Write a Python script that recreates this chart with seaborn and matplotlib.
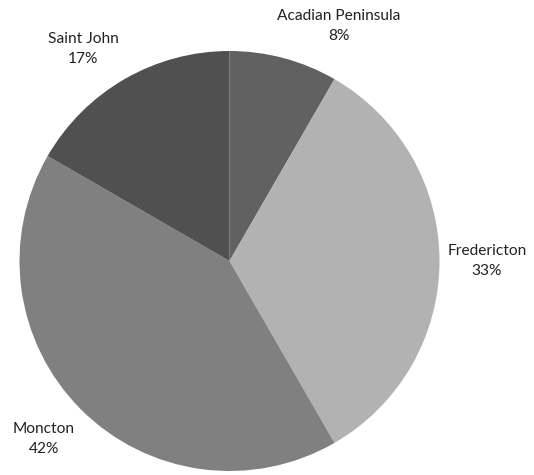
import matplotlib
matplotlib.use("Agg")
import matplotlib.pyplot as plt
import seaborn as sns

# Respondents by region
regions = ["Acadian Peninsula", "Fredericton", "Moncton", "Saint John"]
counts = [1, 4, 5, 2]
colors = ["#616161", "#b2b2b2", "#808080", "#505050"]

# Label anchors in units of the pie radius (pie centred at origin)
label_x = [0.521, 1.226, -0.883, -0.698]
label_y = [1.119, 0.0, -0.848, 1.010]

sns.set_theme(style="white")
plt.rcParams["font.family"] = ["Lato", "DejaVu Sans"]

fig = plt.figure(figsize=(5.34, 4.75), dpi=100)
ax = fig.add_axes([0, 0, 1, 1])

ax.pie(
    counts,
    colors=colors,
    startangle=90,
    counterclock=False,
    radius=1.0,
    wedgeprops=dict(linewidth=0),
)

total = sum(counts)
for name, c, x, y in zip(regions, counts, label_x, label_y):
    pct = round(100 * c / total)
    ax.text(x, y, f"{name}\n{pct}%",
            ha="center", va="center", fontsize=11.2, color="#222222",
            linespacing=1.6)

ax.set_xlim(-229.5 / 210, (534 - 229.5) / 210)
ax.set_ylim(-214 / 210, 261 / 210)
ax.set_aspect("equal")
ax.axis("off")

fig.savefig("out.png", dpi=100)
